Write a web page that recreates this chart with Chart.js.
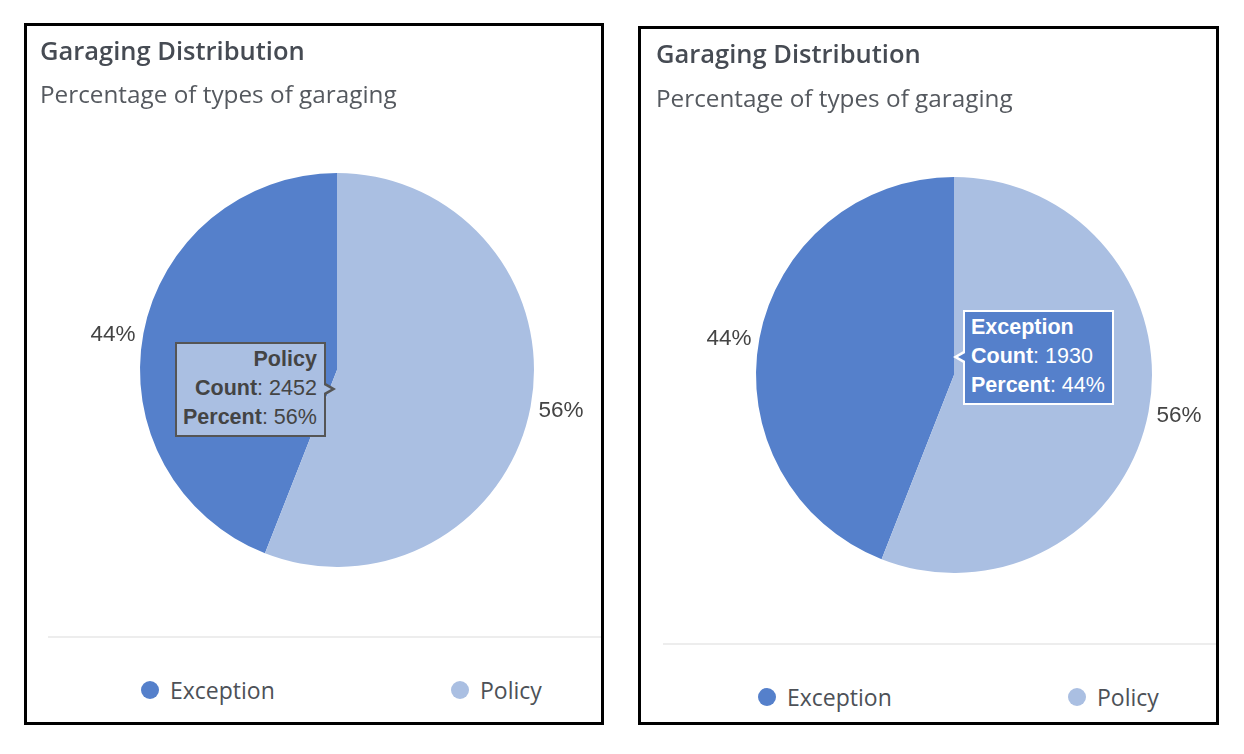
<!DOCTYPE html>
<html>
<head>
<meta charset="utf-8">
<title>Garaging Distribution</title>
<script src="https://cdn.jsdelivr.net/npm/chart.js@4.4.1/dist/chart.umd.min.js"></script>
<style>
  body { margin: 0; width: 1244px; height: 754px; background: #fff; position: relative; overflow: hidden; }
  .card { position: absolute; box-sizing: border-box; border: 3px solid #000; background: #fff; overflow: hidden; }
  .card .t { position: absolute; margin: 0; font: 600 25.5px "Open Sans", sans-serif; line-height: 25.5px; color: #464b53; white-space: nowrap; }
  .card .s { position: absolute; margin: 0; font: 400 24.3px "Open Sans", sans-serif; line-height: 24px; color: #55595f; white-space: nowrap; }
  .card canvas { position: absolute; left: 0; top: 0; }
  .card .sep { position: absolute; height: 2px; background: #ededed; }
  .legend-item { position: absolute; display: flex; align-items: center; font: 400 23px "Open Sans", sans-serif; color: #4d5157; white-space: nowrap; }
  .legend-item i { display: inline-block; width: 18px; height: 18px; border-radius: 50%; margin-right: 11px; }
  .tip { position: absolute; display: none; box-sizing: border-box; border: 2px solid; padding: 1px 7px 3px 6px;
         font: 21.5px "Liberation Sans", Arial, sans-serif; line-height: 29px; white-space: nowrap; }
  .tip b { font-weight: 700; }
  .tip::before, .tip::after { content: ''; position: absolute; top: 50%; border-style: solid; border-color: transparent; }
  .tip.left::before { left: 100%; margin-top: -7px; border-width: 7px 0 7px 12px; border-left-color: var(--bd); }
  .tip.left::after { left: calc(100% - 2px); margin-top: -5px; border-width: 5px 0 5px 9px; border-left-color: var(--bg); }
  .tip.right::before { right: 100%; margin-top: -7px; border-width: 7px 12px 7px 0; border-right-color: var(--bd); }
  .tip.right::after { right: calc(100% - 2px); margin-top: -5px; border-width: 5px 9px 5px 0; border-right-color: var(--bg); }
</style>
</head>
<body>

<div class="card" id="card1"><canvas id="pie1"></canvas></div>
<div class="card" id="card2"><canvas id="pie2"></canvas></div>

<script>
// Chart data
const chartTitle = 'Garaging Distribution';
const chartSubtitle = 'Percentage of types of garaging';
const categories = ['Exception', 'Policy'];
const counts = [1930, 2452];
const sliceColors = ['#5580cb', '#aabfe2'];
const tipTextColors = ['#ffffff', '#444444'];
const tipBorderColors = ['#ffffff', '#555555'];

const total = counts.reduce((a, b) => a + b, 0);
const percentOf = v => Math.round(v / total * 100);

// Two copies of the same card, each with a different hovered slice
const panels = [
    { id: 1, left: 24, top: 23, w: 580, h: 702, canvasW: 620, canvasH: 600, padTop: 147, padBottom: 59,
      titleX: 13, titleY: 12, subY: 56, sepX: 21, sepY: 610, legendX: 114, legendY: 664, legendStep: 310,
      hoverIndex: 1, hoverDx: -1, hoverDy: 19, side: 'left' },
    { id: 2, left: 638, top: 26, w: 581, h: 699, canvasW: 626, canvasH: 600, padTop: 148, padBottom: 56,
      titleX: 15, titleY: 12, subY: 57, sepX: 22, sepY: 614, legendX: 117, legendY: 668, legendStep: 310,
      hoverIndex: 0, hoverDx: -1, hoverDy: -18, side: 'right' }
];

// Tooltip sits exactly where the pointer is
Chart.Tooltip.positioners.atPointer = function(items, eventPosition) {
    return eventPosition;
};

// Percent labels just outside the pie edge
const outsideLabels = {
    id: 'outsideLabels',
    afterDatasetsDraw(chart) {
        const ctx = chart.ctx;
        const meta = chart.getDatasetMeta(0);
        ctx.save();
        ctx.font = '22.5px "Liberation Sans", Arial, sans-serif';
        ctx.fillStyle = '#444';
        ctx.textBaseline = 'middle';
        meta.data.forEach((arc, i) => {
            const p = arc.getProps(['x', 'y', 'startAngle', 'endAngle', 'outerRadius'], true);
            const mid = (p.startAngle + p.endAngle) / 2;
            const r = p.outerRadius + 8;
            const lx = p.x + Math.cos(mid) * r;
            ctx.textAlign = lx < p.x ? 'right' : 'left';
            ctx.fillText(percentOf(counts[i]) + '%', lx, p.y + Math.sin(mid) * r + 2.5);
        });
        ctx.restore();
    }
};

function makeTooltipHandler(panel, tipEl) {
    return function(context) {
        const tooltip = context.tooltip;
        if (tooltip.opacity === 0 || !tooltip.dataPoints || !tooltip.dataPoints.length) {
            tipEl.style.display = 'none';
            return;
        }
        const item = tooltip.dataPoints[0];
        const i = item.dataIndex;
        tipEl.className = 'tip ' + panel.side;
        tipEl.style.setProperty('--bg', sliceColors[i]);
        tipEl.style.setProperty('--bd', tipBorderColors[i]);
        tipEl.style.background = sliceColors[i];
        tipEl.style.borderColor = tipBorderColors[i];
        tipEl.style.color = tipTextColors[i];
        tipEl.style.textAlign = panel.side === 'left' ? 'right' : 'left';
        tipEl.innerHTML =
            '<div><b>' + item.label + '</b></div>' +
            '<div><b>Count</b>: ' + item.raw + '</div>' +
            '<div><b>Percent</b>: ' + percentOf(item.raw) + '%</div>';
        tipEl.style.display = 'block';
        const w = tipEl.offsetWidth, h = tipEl.offsetHeight;
        const caret = 10;
        const x = panel.side === 'left' ? tooltip.caretX - caret - w : tooltip.caretX + caret;
        tipEl.style.left = x + 'px';
        tipEl.style.top = (tooltip.caretY - h / 2) + 'px';
    };
}

panels.forEach(panel => {
    const card = document.getElementById('card' + panel.id);
    card.style.left = panel.left + 'px';
    card.style.top = panel.top + 'px';
    card.style.width = panel.w + 'px';
    card.style.height = panel.h + 'px';

    const t = document.createElement('div');
    t.className = 't';
    t.textContent = chartTitle;
    t.style.left = panel.titleX + 'px';
    t.style.top = panel.titleY + 'px';
    card.appendChild(t);

    const s = document.createElement('div');
    s.className = 's';
    s.textContent = chartSubtitle;
    s.style.left = panel.titleX + 'px';
    s.style.top = panel.subY + 'px';
    card.appendChild(s);

    const sep = document.createElement('div');
    sep.className = 'sep';
    sep.style.left = panel.sepX + 'px';
    sep.style.top = panel.sepY + 'px';
    sep.style.width = (panel.canvasW - 2 * panel.sepX) + 'px';
    card.appendChild(sep);

    categories.forEach((name, i) => {
        const li = document.createElement('div');
        li.className = 'legend-item';
        li.innerHTML = '<i style="background:' + sliceColors[i] + '"></i>' + name;
        li.style.left = (panel.legendX + i * panel.legendStep) + 'px';
        li.style.top = (panel.legendY - 16) + 'px';
        li.style.height = '32px';
        card.appendChild(li);
    });

    const tipEl = document.createElement('div');
    tipEl.className = 'tip';
    card.appendChild(tipEl);

    const canvas = document.getElementById('pie' + panel.id);
    canvas.width = panel.canvasW;
    canvas.height = panel.canvasH;

    const chart = new Chart(canvas, {
        type: 'pie',
        data: {
            labels: categories,
            datasets: [{
                data: counts,
                backgroundColor: sliceColors,
                hoverBackgroundColor: sliceColors,
                borderWidth: 0,
                hoverBorderWidth: 0,
                hoverOffset: 0
            }]
        },
        options: {
            responsive: false,
            animation: false,
            events: [],
            rotation: 360 * counts[1] / total,
            layout: { padding: { top: panel.padTop, bottom: panel.padBottom, left: 0, right: 0 } },
            plugins: {
                legend: { display: false },
                title: { display: false },
                tooltip: {
                    enabled: false,
                    position: 'atPointer',
                    external: makeTooltipHandler(panel, tipEl)
                }
            }
        },
        plugins: [outsideLabels]
    });

    // Show the tooltip as it looked when the pointer rested near the centre
    const arc = chart.getDatasetMeta(0).data[panel.hoverIndex];
    chart.tooltip.setActiveElements(
        [{ datasetIndex: 0, index: panel.hoverIndex }],
        { x: arc.x + panel.hoverDx, y: arc.y + panel.hoverDy }
    );
});
</script>
</body>
</html>
